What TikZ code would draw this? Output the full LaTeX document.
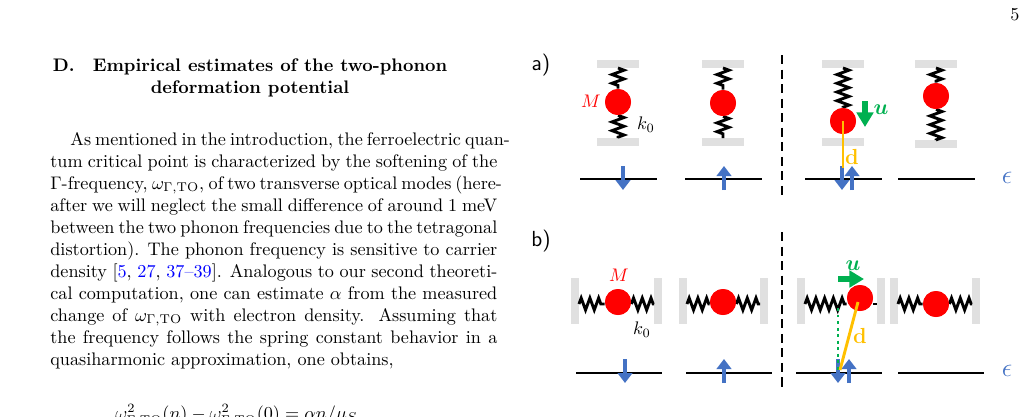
\documentclass[tikz,border=0pt]{standalone}
\usepackage{bm}
\usetikzlibrary{decorations.pathmorphing,arrows.meta}
\begin{document}
\begin{tikzpicture}[x=0.55pt,y=-0.55pt,
  bar/.style={fill=black!12,draw=none},
  ball/.style={circle,fill=red,draw=none,minimum size=14.3pt,inner sep=0pt},
  spring/.style={black,line width=1.6pt,decorate,decoration={zigzag,segment length=4.8pt,amplitude=3.3pt}},
  lvl/.style={black,line width=1.1pt},
  spin/.style={line width=1.8pt,-{Triangle[width=8pt,length=5.5pt]}},
  txt/.style={anchor=base west,inner sep=0pt},
  lab/.style={font=\sffamily\large,inner sep=0pt}]
\useasboundingbox (0,0) rectangle (1028,416);
\clip (0,0) rectangle (1028,416);
\definecolor{sb}{RGB}{68,114,196}
\definecolor{gr}{RGB}{0,176,80}
\definecolor{og}{RGB}{255,192,0}
\node[inner sep=0pt] (pg) at (1015,15) {5};
% heading
\node[inner sep=0pt,align=center,font=\bfseries] (hd) at (250,78) {D.\quad Empirical estimates of the two-phonon\\deformation potential};
% body
\def\W{245.85pt}
\node[txt] (l1) at (70,145) {\makebox[235.9pt][s]{As mentioned in the introduction, the ferroelectric quan-}};
\node[txt] (l2) at (50,167) {\makebox[\W][s]{tum critical point is characterized by the softening of the}};
\node[txt] (l3) at (50,189) {\makebox[\W][s]{$\Gamma$-frequency, $\omega_{\Gamma,\mathrm{TO}}$, of two transverse optical modes (here-}};
\node[txt] (l4) at (50,211) {\makebox[\W][s]{after we will neglect the small difference of around 1 meV}};
\node[txt] (l5) at (50,233) {\makebox[\W][s]{between the two phonon frequencies due to the tetragonal}};
\node[txt] (l6) at (50,255) {\makebox[\W][s]{distortion). The phonon frequency is sensitive to carrier}};
\node[txt] (l7) at (50,277) {\makebox[\W][s]{density [{\color{blue}5}, {\color{blue}27}, {\color{blue}37--39}]. Analogous to our second theoreti-}};
\node[txt] (l8) at (50,299) {\makebox[\W][s]{cal computation, one can estimate $\alpha$ from the measured}};
\node[txt] (l9) at (50,321) {\makebox[\W][s]{change of $\omega_{\Gamma,\mathrm{TO}}$ with electron density. Assuming that}};
\node[txt] (l10) at (50,343) {\makebox[\W][s]{the frequency follows the spring constant behavior in a}};
\node[txt] (l11) at (50,365) {quasiharmonic approximation, one obtains,};
\node[txt] (eq) at (115,419) {$\omega^2_{\Gamma,\mathrm{TO}}(n)-\omega^2_{\Gamma,\mathrm{TO}}(0)=\alpha n/\mu_S$};
% figure labels
\node[lab] (la) at (541,65) {a)};
\node[lab] (lb) at (541,241) {b)};
\coordinate (da1) at (782,55); \coordinate (da2) at (782,198);
\coordinate (db1) at (782,232); \coordinate (db2) at (782,390);
\draw[line width=1pt,dash pattern=on 5pt off 3pt] (da1) -- (da2);
\draw[line width=1pt,dash pattern=on 5pt off 3pt] (db1) -- (db2);
% panel a
\foreach \cx/\bby/\name in {618/142/a1,723/142/a2,843/142/a3,936/144/a4}{
  \fill[bar] (\cx-21,60) rectangle (\cx+21,68);
  \fill[bar] (\cx-21,\bby-4) rectangle (\cx+21,\bby+4);
  \coordinate (\name t) at (\cx,68);
  \coordinate (\name b) at (\cx,\bby-4);
}
\node[ball] (A1) at (618,102) {}; \node[ball] (A2) at (723,103) {};
\node[ball] (A3) at (843,121) {}; \node[ball] (A4) at (936,96) {};
\draw[spring] (a1t) -- (A1.north); \draw[spring] (A1.south) -- (a1b);
\draw[spring] (a2t) -- (A2.north); \draw[spring] (A2.south) -- (a2b);
\draw[spring] (a3t) -- (A3.north); \draw[spring] (A3.south) -- (a3b);
\draw[spring] (a4t) -- (A4.north); \draw[spring] (A4.south) -- (a4b);
\node[ball] at (A1) {}; \node[ball] at (A2) {}; \node[ball] at (A3) {}; \node[ball] at (A4) {};
\node[inner sep=0pt,text=red] (M1) at (591,101) {$M$};
\node[inner sep=0pt] (k1) at (646,125) {$k_0$};
% levels a
\foreach \x/\n in {580/1,685/2,805/3,898/4}{\coordinate (la\n s) at (\x,179); \coordinate (la\n e) at (\x+77,179);}
\foreach \n in {1,2,3,4}{\draw[lvl] (la\n s) -- (la\n e);}
\coordinate (sa1s) at (623,166); \coordinate (sa1e) at (623,190);
\coordinate (sa2s) at (724,190); \coordinate (sa2e) at (724,166);
\coordinate (sa3s) at (842,166); \coordinate (sa3e) at (842,190);
\coordinate (sa4s) at (852,190); \coordinate (sa4e) at (852,166);
\draw[spin,draw=sb,fill=sb] (sa1s) -- (sa1e); \draw[spin,draw=sb,fill=sb] (sa2s) -- (sa2e);
\draw[spin,draw=sb,fill=sb] (sa3s) -- (sa3e); \draw[spin,draw=sb,fill=sb] (sa4s) -- (sa4e);
\node[text=sb,inner sep=0pt,font=\Large] (ea) at (1007,178) {$\epsilon$};
\coordinate (da) at (843,168);
\draw[og,line width=1.6pt] (A3.center) -- (da);
\node[text=og,inner sep=0pt,font=\large\bfseries] (dla) at (852,157) {d};
\coordinate (ua1) at (865,101); \coordinate (ua2) at (865,127);
\draw[gr,line width=3pt,-{Triangle[width=9pt,length=8pt]}] (ua1) -- (ua2);
\node[text=gr,inner sep=0pt,font=\large] (ula) at (881,110) {$\bm{u}$};
% panel b
\foreach \l/\r/\name in {575/658/b1,683/764/b2,801/881/b3,894/976/b4}{
  \fill[bar] (\l-4,278) rectangle (\l+4,324);
  \fill[bar] (\r-4,278) rectangle (\r+4,324);
  \coordinate (\name l) at (\l+4,304);
  \coordinate (\name r) at (\r-4,304);
}
\node[ball] (B1) at (618,302) {}; \node[ball] (B2) at (723,302) {};
\node[ball] (B3) at (860,298) {}; \node[ball] (B4) at (936,304) {};
\draw[spring] (b1l) -- (B1.west |- b1l); \draw[spring] (B1.east |- b1r) -- (b1r);
\draw[spring] (b2l) -- (B2.west |- b2l); \draw[spring] (B2.east |- b2r) -- (b2r);
\draw[spring] (b3l) -- (B3.west |- b3l); \draw[spring] (B3.east |- b3r) -- (b3r);
\draw[spring] (b4l) -- (B4.west |- b4l); \draw[spring] (B4.east |- b4r) -- (b4r);
\node[ball] at (B1) {}; \node[ball] at (B2) {}; \node[ball] at (B3) {}; \node[ball] at (B4) {};
\node[inner sep=0pt,text=red] (M2) at (619,275) {$M$};
\node[inner sep=0pt] (k2) at (642,330) {$k_0$};
\foreach \x/\n in {576/1,686/2,796/3,898/4}{\coordinate (lb\n s) at (\x,373); \coordinate (lb\n e) at (\x+86,373);}
\foreach \n in {1,2,3,4}{\draw[lvl] (lb\n s) -- (lb\n e);}
\coordinate (sb1s) at (625,359); \coordinate (sb1e) at (625,383);
\coordinate (sb2s) at (724,383); \coordinate (sb2e) at (724,359);
\coordinate (sb3s) at (838,359); \coordinate (sb3e) at (838,383);
\coordinate (sb4s) at (849,383); \coordinate (sb4e) at (849,359);
\draw[spin,draw=sb,fill=sb] (sb1s) -- (sb1e); \draw[spin,draw=sb,fill=sb] (sb2s) -- (sb2e);
\draw[spin,draw=sb,fill=sb] (sb3s) -- (sb3e); \draw[spin,draw=sb,fill=sb] (sb4s) -- (sb4e);
\node[text=sb,inner sep=0pt,font=\Large] (eb) at (1007,371) {$\epsilon$};
\coordinate (dv1) at (838,308); \coordinate (dv2) at (838,370);
\draw[gr,line width=1.6pt,dotted] (dv1) -- (dv2);
\coordinate (dbt) at (858,302); \coordinate (db) at (840,370);
\draw[og,line width=1.6pt] (dbt) -- (db);
\node[text=og,inner sep=0pt,font=\large\bfseries] (dlb) at (860,336) {d};
\coordinate (ub1) at (838,279); \coordinate (ub2) at (864,279);
\draw[gr,line width=3pt,-{Triangle[width=9pt,length=8pt]}] (ub1) -- (ub2);
\node[text=gr,inner sep=0pt,font=\large] (ulb) at (853,266) {$\bm{u}$};
\end{tikzpicture}
\end{document}
